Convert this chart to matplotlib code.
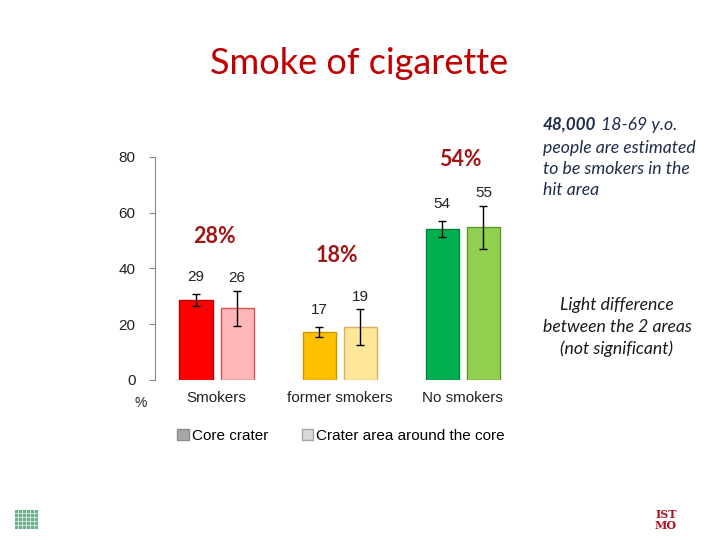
import numpy as np
import matplotlib
matplotlib.use("Agg")
import matplotlib.pyplot as plt
from matplotlib.patches import Patch

# data
categories = ["Smokers", "former smokers", "No smokers"]
core_vals = [28.7, 17.2, 54.1]
area_vals = [25.8, 19.0, 54.8]
core_err = [2.3, 1.8, 2.9]
area_err = [6.3, 6.3, 7.7]
core_labels = ["29", "17", "54"]
area_labels = ["26", "19", "55"]
totals = ["28%", "18%", "54%"]
total_y = [51.6, 44.8, 79.2]

core_colors = ["#FF0000", "#FFC000", "#00B050"]
core_edges = ["#C00000", "#C89600", "#00853C"]
area_colors = ["#FFB7B7", "#FFE699", "#92D050"]
area_edges = ["#E05050", "#D8B060", "#5E9A2C"]

fig = plt.figure(figsize=(7.2, 5.4), dpi=100)
ax = fig.add_axes([0.2153, 0.2963, 0.496, 0.413])

x = np.arange(len(categories))
w = 0.27
off = 0.167
ax.bar(x - off, core_vals, w, color=core_colors, edgecolor=core_edges, linewidth=1)
ax.bar(x + off, area_vals, w, color=area_colors, edgecolor=area_edges, linewidth=1)
ax.errorbar(x - off, core_vals, yerr=core_err, fmt="none", ecolor="black",
            elinewidth=1, capsize=3, capthick=1)
ax.errorbar(x + off, area_vals, yerr=area_err, fmt="none", ecolor="black",
            elinewidth=1, capsize=3, capthick=1)

for i in range(len(categories)):
    ax.annotate(core_labels[i], (x[i] - off, core_vals[i] + core_err[i]),
                xytext=(0, 12), textcoords="offset points", ha="center", va="center",
                fontsize=11, family="Liberation Sans", color="#222222")
    ax.annotate(area_labels[i], (x[i] + off, area_vals[i] + area_err[i]),
                xytext=(0, 9), textcoords="offset points", ha="center", va="center",
                fontsize=11, family="Liberation Sans", color="#222222")
    ax.text(x[i] - 0.02, total_y[i], totals[i], ha="center", va="center",
            fontsize=15.5, fontweight="bold", family="Lato", color="#A31515")

ax.set_xlim(-0.5, 2.4)
ax.set_ylim(0, 80)
ax.set_yticks([0, 20, 40, 60, 80])
ax.set_xticks(x)
ax.set_xticklabels(categories, fontsize=11, family="Liberation Sans", color="#222222")
for lab in ax.get_yticklabels():
    lab.set_family("Liberation Sans")
    lab.set_fontsize(11)
    lab.set_color("#222222")
ax.tick_params(axis="x", length=0, pad=8)
ax.tick_params(axis="y", length=4, color="#888888", pad=10)
for s in ["top", "right", "bottom"]:
    ax.spines[s].set_visible(False)
ax.spines["left"].set_color("#888888")
fig.text(141 / 720, 1 - 403 / 540, "%", ha="center", va="center",
         fontsize=10, family="Liberation Sans", color="#222222")

handles = [Patch(facecolor="#A6A6A6", edgecolor="#8C8C8C"),
           Patch(facecolor="#D9D9D9", edgecolor="#A6A6A6")]
leg = fig.legend(handles, ["Core crater", "Crater area around the core"], ncol=2,
                 loc="center", bbox_to_anchor=(341 / 720, 1 - 436 / 540), frameon=False,
                 handlelength=0.75, handleheight=0.75, handletextpad=0.2, columnspacing=2.2,
                 prop={"family": "Liberation Sans", "size": 11})

fig.text(359 / 720, 1 - 64 / 540, "Smoke of cigarette", ha="center", va="center",
         fontsize=26, family="Lato", color="#C00000")

navy = "#1F2D4A"
fig.text(543 / 720, 1 - 125 / 540, "48,000", ha="left", va="center", fontsize=12.3,
         family="Lato", style="italic", fontweight="bold", color=navy)
fig.text(601 / 720, 1 - 125 / 540, "18-69 y.o.", ha="left", va="center", fontsize=12.7,
         family="Lato", style="italic", color=navy)
fig.text(543 / 720, 1 - 169 / 540, "people are estimated\nto be smokers in the\nhit area",
         ha="left", va="center", fontsize=12.7, family="Lato", style="italic", color=navy,
         linespacing=1.4)
fig.text(617 / 720, 1 - 327 / 540,
         "Light difference\nbetween the 2 areas\n(not significant)",
         ha="center", va="center", fontsize=12.7, family="Lato", style="italic",
         color="#1A1A1A", linespacing=1.4)

# logos (approximate)
fig.text(666 / 720, 1 - 520 / 540, "IST\nMO", ha="center", va="center", fontsize=8,
         family="DejaVu Serif", fontweight="bold", color="#B01020", linespacing=0.9)
lg = fig.add_axes([15 / 720, 1 - 528 / 540, 22 / 720, 18 / 540])
gx, gy = np.meshgrid(np.arange(6), np.arange(5))
lg.scatter(gx.ravel(), gy.ravel(), s=2, marker="s", color="#6BAF8A")
lg.axis("off")

fig.savefig("out.png", dpi=100)
